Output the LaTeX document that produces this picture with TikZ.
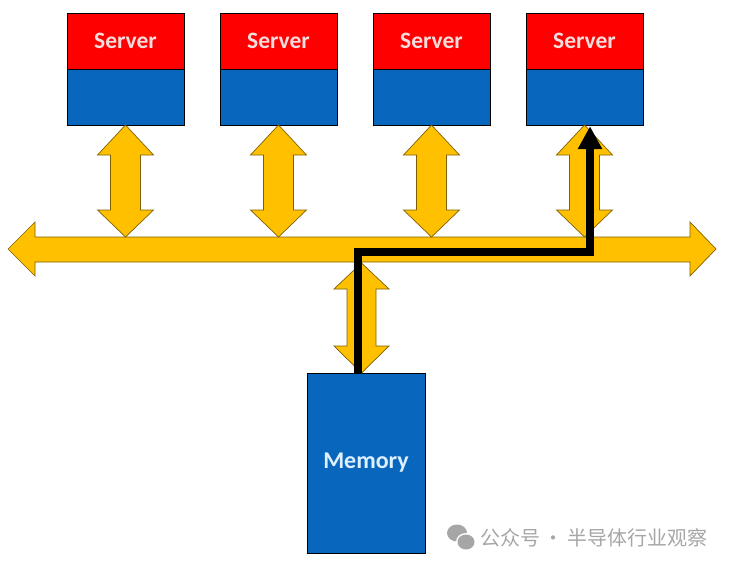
\documentclass[tikz,border=0pt]{standalone}
\usepackage{fontspec}
\setmainfont{Carlito}
\newfontfamily\cjk{Noto Sans CJK SC}
\usetikzlibrary{arrows.meta}
\definecolor{srvred}{HTML}{FF0000}
\definecolor{srvblue}{HTML}{0866BC}
\definecolor{busyellow}{HTML}{FFC000}
\definecolor{busedge}{HTML}{7F6000}
\definecolor{srvtext}{HTML}{F4DCDC}
\definecolor{memtext}{HTML}{DDF0FF}
\definecolor{wmgray}{HTML}{A6A6A6}
\tikzset{
  srvtop/.style={draw=black, line width=0.8pt, fill=srvred, minimum width=117pt, minimum height=56pt, inner sep=0pt, text=srvtext, font=\fontsize{23.5}{26}\selectfont\bfseries},
  srvbot/.style={draw=black, line width=0.8pt, fill=srvblue, minimum width=117pt, minimum height=56pt, inner sep=0pt},
  membox/.style={draw=black, line width=0.8pt, fill=srvblue, minimum width=118pt, minimum height=180pt, inner sep=0pt, text=memtext, font=\fontsize{24}{27}\selectfont\bfseries},
  fatarrow/.style={draw=busedge, line width=0.7pt, fill=busyellow, line join=miter},
  pathline/.style={draw=black, line width=8pt, line join=miter, -{Triangle[width=23pt,length=23pt]}},
}
\begin{document}
\begin{tikzpicture}[x=1pt,y=-1pt]
\useasboundingbox (0,0) rectangle (731,568);
% bus
\path[fatarrow] (8,249) -- (35,222) -- (35,237) -- (690,237) -- (690,222) -- (716,249) -- (690,276) -- (690,262) -- (35,262) -- (35,276) -- cycle;
% servers
\foreach \i/\cx in {1/125.5,2/278.5,3/431.5,4/584.5}{
  \node[srvtop] (s\i) at (\cx,41) {Server};
  \node[srvbot, anchor=north] (s\i b) at (s\i.south) {};
  \path[fatarrow] (\cx,125) -- (\cx+28,155) -- (\cx+15,155) -- (\cx+15,210) -- (\cx+28,210) -- (\cx,237) -- (\cx-28,210) -- (\cx-15,210) -- (\cx-15,155) -- (\cx-28,155) -- cycle;
}
% memory
\node[membox] (mem) at (366,463) {Memory};
\path[fatarrow] (361.5,263) -- (389,289) -- (376,289) -- (376,346) -- (389,346) -- (361.5,373) -- (334,346) -- (347,346) -- (347,289) -- (334,289) -- cycle;
% data path
\coordinate (c1) at (358,252);
\coordinate (c2) at (590,252);
\draw[pathline] ([xshift=-8pt]mem.north) -- (c1) -- (c2) -- ([xshift=5.5pt]s4b.south);
% watermark
\fill[wmgray] (457,533) ellipse (10pt and 8.5pt);
\fill[white] (466,542) ellipse (10pt and 9pt);
\fill[wmgray] (466,542) ellipse (8.5pt and 7.5pt);
\node[text=wmgray, anchor=west, font=\cjk\fontsize{20}{23}\selectfont] (wm) at (477,538) {公众号\,·\,半导体行业观察};
\end{tikzpicture}
\end{document}
